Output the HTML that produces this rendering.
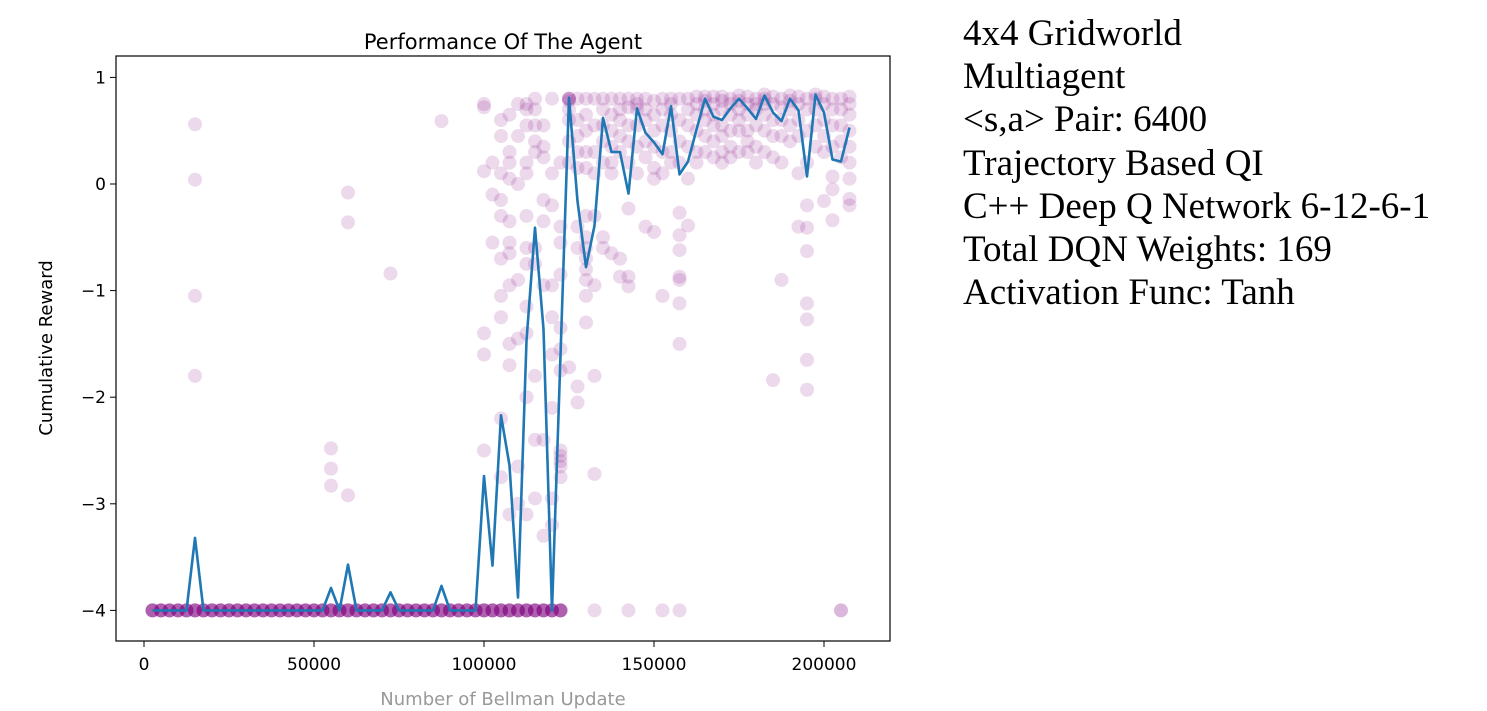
<!DOCTYPE html>
<html><head><meta charset="utf-8">
<style>
html,body{margin:0;padding:0;background:#fff;width:1487px;height:711px;overflow:hidden;}
#info{position:absolute;left:963px;top:12px;font-family:"Liberation Serif",serif;font-size:37px;line-height:43.2px;color:#000;white-space:nowrap;}
svg{position:absolute;left:0;top:0;}
</style></head><body>
<svg id="chart" width="930" height="711" xmlns="http://www.w3.org/2000/svg" font-family="DejaVu Sans, Liberation Sans, sans-serif"></svg>
<div id="info">
<div>4x4 Gridworld</div>
<div>Multiagent</div>
<div>&lt;s,a&gt; Pair: 6400</div>
<div>Trajectory Based QI</div>
<div>C++ Deep Q Network 6-12-6-1</div>
<div>Total DQN Weights: 169</div>
<div>Activation Func: Tanh</div>
</div>
<script>
const xTicks = [0, 50000, 100000, 150000, 200000];
const xTickLabels = ["0", "50000", "100000", "150000", "200000"];
const yTicks = [1, 0, -1, -2, -3, -4];
const yTickLabels = ["1", "0", "\u22121", "\u22122", "\u22123", "\u22124"];
const lineStep = 2500;
const lineValues = [
 -4,-4,-4,-4,-4,-3.32,-4,-4,-4,-4,
 -4,-4,-4,-4,-4,-4,-4,-4,-4,-4,
 -4,-3.79,-4,-3.57,-4,-4,-4,-4,-3.83,-4,
 -4,-4,-4,-4,-3.77,-4,-4,-4,-4,-2.74,
 -3.58,-2.17,-2.64,-3.88,-1.47,-0.41,-1.36,-4,-1.61,0.81,
 -0.16,-0.78,-0.39,0.62,0.30,0.30,-0.09,0.71,0.48,0.39,
 0.28,0.73,0.09,0.21,0.51,0.80,0.63,0.60,0.71,0.80,
 0.71,0.61,0.83,0.67,0.59,0.80,0.69,0.07,0.84,0.67,
 0.23,0.21,0.53
];
const scatterColumns = [
 [15000,[0.56,0.04,-1.05,-1.8]],[55000,[-2.48,-2.67,-2.83]],[60000,[-0.08,-0.36,-2.92]],
 [72500,[-0.84]],[87500,[0.59]],
 [100000,[0.75,0.72,0.12,-1.4,-1.6,-2.5]],[102500,[0.2,-0.1,-0.55]],
 [105000,[0.6,0.45,0.1,-0.15,-0.3,-0.7,-1.05,-1.25,-2.2,-2.75]],
 [107500,[0.65,0.3,0.2,0.05,-0.35,-0.55,-0.65,-0.95,-1.5,-1.7,-3.1]],
 [110000,[0.75,0.45,0,-0.9,-1.45,-2.65,-3.0]],
 [112500,[0.75,0.7,0.55,0.2,0.1,-0.3,-0.6,-0.75,-1.15,-1.4,-2.0,-3.1]],
 [115000,[0.8,0.7,0.55,0.4,0.3,-0.6,-0.75,-1.8,-2.4,-2.95]],
 [117500,[0.55,0.35,0.25,-0.15,-0.35,-0.95,-2.4,-3.3]],
 [120000,[0.8,0.1,-0.2,-0.95,-1.25,-1.6,-2.1,-2.95,-3.2]],
 [122500,[0.2,-0.4,-0.55,-0.85,-1.35,-1.55,-1.75,-2.5,-2.55,-2.6,-2.65,-2.75]],
 [125000,[0.8,0.8,0.8,0.78,0.7,0.6,0.4,0.2,-1.72]],
 [127500,[0.8,0.6,0.45,0.3,0.15,-0.4,-0.6,-1.9,-2.05]],
 [130000,[0.8,0.65,0.5,0.3,0.15,-0.3,-0.5,-0.6,-0.7,-0.8,-0.9,-1.05,-1.3]],
 [132500,[0.8,0.55,0.3,0.1,-0.3,-0.95,-1.8,-2.72,-4]],
 [135000,[0.8,0.7,0.55,0.4,0.2,-0.5,-0.6]],
 [137500,[0.8,0.65,0.5,0.35,0.2,0.1,-0.65]],
 [140000,[0.8,0.7,0.6,0.45,0.3,-0.7,-0.87]],
 [142500,[0.8,0.72,0.55,0.4,0.2,-0.23,-0.87,-0.96,-4]],
 [145000,[0.8,0.75,0.7,0.55,0.35,0.1]],
 [147500,[0.8,0.7,0.6,0.4,0.25,-0.4]],
 [150000,[0.78,0.65,0.5,0.35,0.15,0.05,-0.45]],
 [152500,[0.8,0.7,0.55,0.3,0.1,-1.05,-4]],
 [155000,[0.8,0.75,0.65,0.5,0.3,0.2]],
 [157500,[0.8,0.6,0.4,0.2,-0.27,-0.48,-0.62,-0.87,-0.9,-1.12,-1.5,-4]],
 [160000,[0.8,0.7,0.55,0.35,0.05,-0.39]],
 [162500,[0.82,0.75,0.65,0.5,0.3,0.2]],
 [165000,[0.82,0.78,0.7,0.6,0.45,0.3]],
 [167500,[0.82,0.75,0.65,0.55,0.4,0.25]],
 [170000,[0.82,0.78,0.7,0.55,0.45,0.3,0.2]],
 [172500,[0.8,0.75,0.65,0.5,0.35,0.25]],
 [175000,[0.83,0.78,0.7,0.6,0.5,0.3]],
 [177500,[0.82,0.75,0.65,0.5,0.4,0.3]],
 [180000,[0.8,0.75,0.7,0.55,0.35,0.2]],
 [182500,[0.84,0.8,0.75,0.65,0.5,0.3]],
 [185000,[0.82,0.75,0.6,0.45,0.25,-1.84]],
 [187500,[0.8,0.72,0.6,0.45,0.2,-0.9]],
 [190000,[0.83,0.78,0.7,0.55,0.4]],
 [192500,[0.82,0.75,0.6,0.45,0.1,-0.4]],
 [195000,[0.8,0.7,0.5,0.2,-0.2,-0.41,-0.63,-1.12,-1.27,-1.65,-1.93]],
 [197500,[0.84,0.8,0.7,0.55,0.35]],
 [200000,[0.82,0.75,0.6,0.45,0.3,-0.16]],
 [202500,[0.8,0.7,0.55,0.35,0.07,-0.05,-0.34]],
 [205000,[0.8,0.7,0.55,0.4,0.25,-4,-4]],
 [207500,[0.82,0.75,0.65,0.5,0.35,0.2,0.05,-0.14,-0.2]]
];
const baselineStart = 2500, baselineEnd = 122500, baselineValue = -4;

const svg = document.getElementById('chart');
const NS = 'http://www.w3.org/2000/svg';
const L = 116, R = 890, T = 56, B = 641;
function xs(v){ return 144 + v * 170 / 50000; }
function ys(v){ return 184 - v * 106.6; }
function mk(tag, attrs){ const e = document.createElementNS(NS, tag); for (const k in attrs) e.setAttribute(k, attrs[k]); svg.appendChild(e); return e; }

let t = mk('text',{x:503,y:49,'font-size':21,'text-anchor':'middle',fill:'#000'});
t.textContent = 'Performance Of The Agent';



const pts = mk('g',{fill:'#800080','fill-opacity':0.15});


function dot(x, y){
  const c = document.createElementNS(NS,'circle');
  c.setAttribute('cx', xs(x)); c.setAttribute('cy', ys(y)); c.setAttribute('r', 7);
  
  
  pts.appendChild(c);
}
for (let x = baselineStart; x <= baselineEnd; x += lineStep){ for (let k = 0; k < 6; k++) dot(x, baselineValue); }
scatterColumns.forEach(col => col[1].forEach(v => dot(col[0], v)));

let d = lineValues.map((v,i) => (i ? 'L' : 'M') + xs((i+1)*lineStep).toFixed(1) + ' ' + ys(v).toFixed(1)).join(' ');
const ln = mk('path',{d:d, fill:'none', stroke:'#1f77b4', 'stroke-width':2.6, 'stroke-linejoin':'round'});



const box = mk('rect',{x:L,y:T,width:R-L,height:B-T,fill:'none',stroke:'#000','stroke-width':1.2});



xTicks.forEach((v,i) => {
  const tk = mk('line',{x1:xs(v),x2:xs(v),y1:B,y2:B+6,stroke:'#000','stroke-width':1});
  
  
  const lb = mk('text',{x:xs(v),y:B+29,'font-size':17,'text-anchor':'middle',fill:'#000'});
  lb.textContent = xTickLabels[i];
  
  
});
yTicks.forEach((v,i) => {
  const tk = mk('line',{x1:L-6,x2:L,y1:ys(v),y2:ys(v),stroke:'#000','stroke-width':1});
  
  
  const lb = mk('text',{x:L-10,y:ys(v)+6,'font-size':17,'text-anchor':'end',fill:'#000'});
  lb.textContent = yTickLabels[i];
  
  
});
const yl = mk('text',{x:0,y:0,'font-size':18,'text-anchor':'middle',fill:'#000',transform:'translate(52 348) rotate(-90)'});
yl.textContent = 'Cumulative Reward';


const xl = mk('text',{x:503,y:705,'font-size':18,'text-anchor':'middle',fill:'#999'});
xl.textContent = 'Number of Bellman Update';


</script>
</body></html>
